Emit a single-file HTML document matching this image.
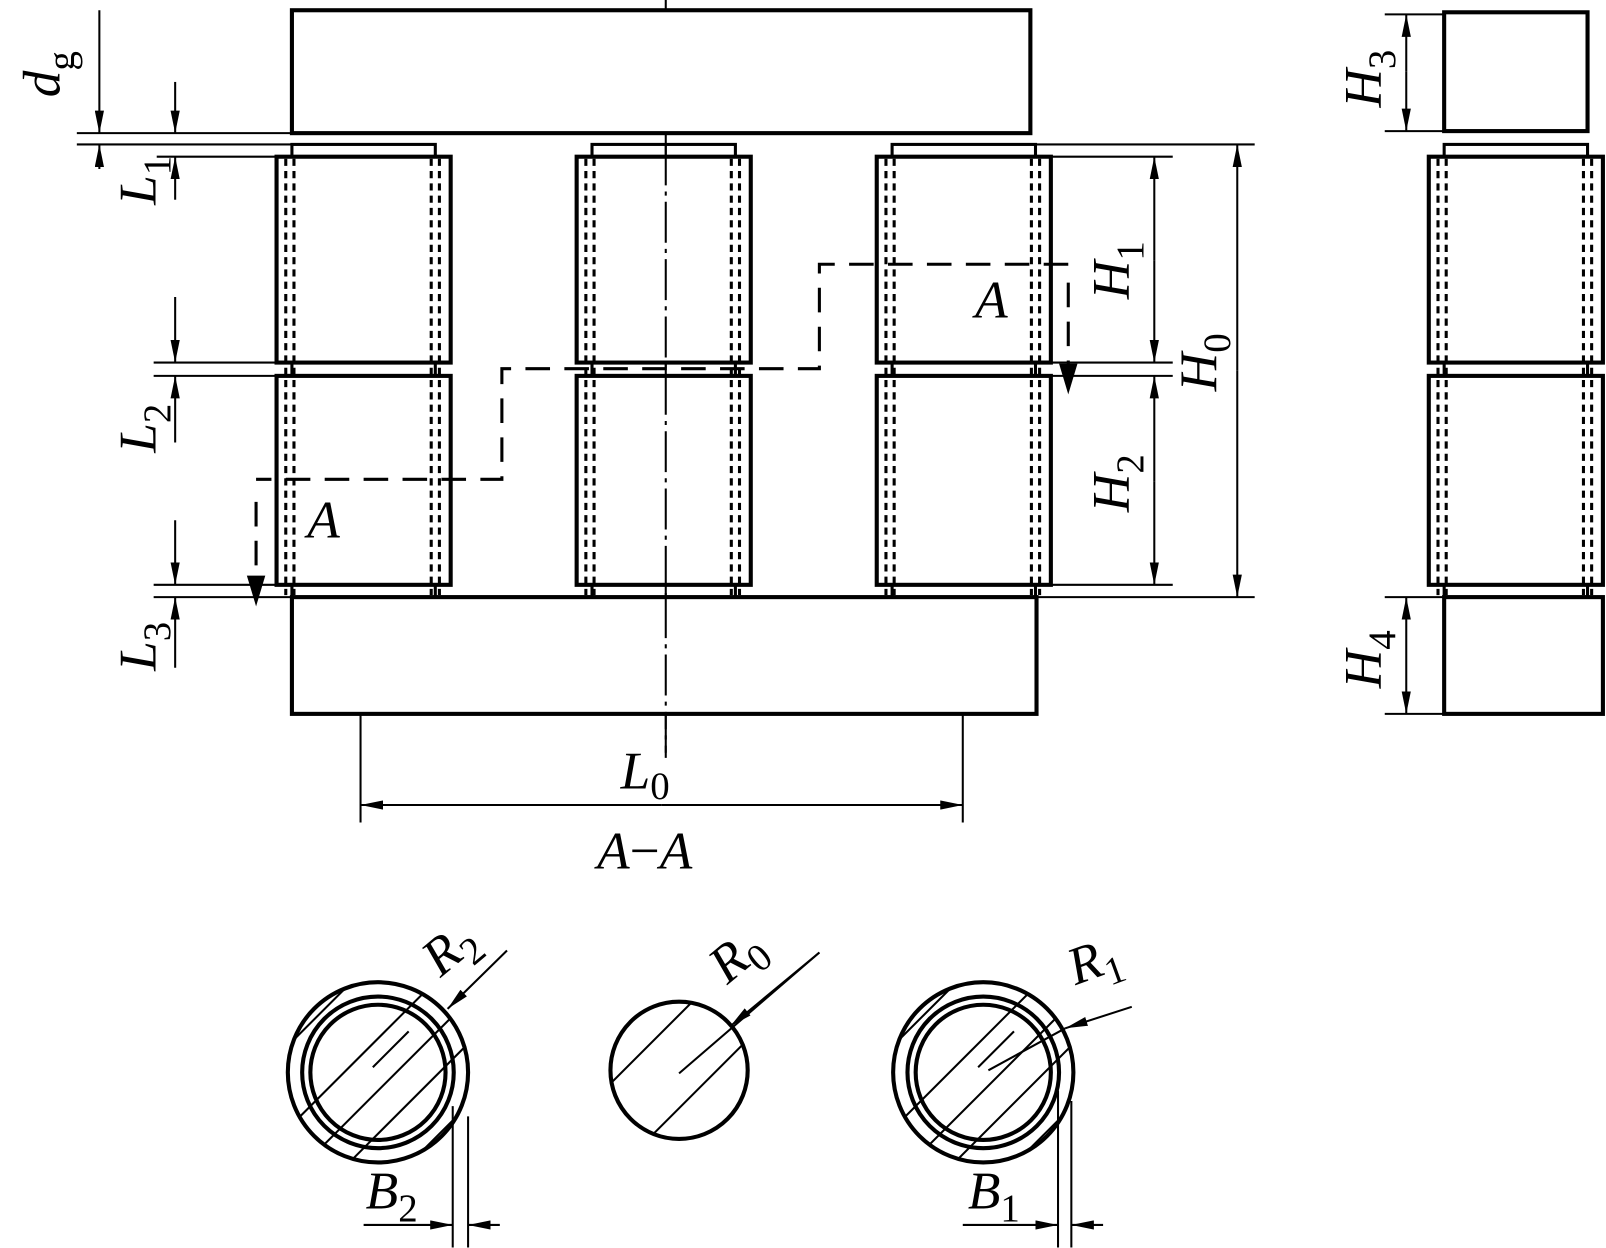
<!DOCTYPE html>
<html><head><meta charset="utf-8"><style>
html,body{margin:0;padding:0;background:#fff;}
svg{display:block;}
text{font-family:"Liberation Serif","Times New Roman",serif;font-style:italic;fill:#000;}
.sub{font-style:normal;}
</style></head><body>
<svg width="1606" height="1248" viewBox="0 0 1568 1218.5" xmlns="http://www.w3.org/2000/svg">
<defs>
<marker id="ar" viewBox="0 0 10 10" preserveAspectRatio="none" refX="10" refY="5" markerWidth="22" markerHeight="9" markerUnits="userSpaceOnUse" orient="auto"><path d="M0,0 L10,5 L0,10 z" fill="#000"/></marker>
<clipPath id="c88"><circle cx="0" cy="0" r="88"/></clipPath>
<clipPath id="c67"><circle cx="663" cy="1045" r="67"/></clipPath>
<g id="coilcol">
  <rect x="15" y="0" width="140" height="442" fill="none" stroke="#000" stroke-width="3"/>
  <rect x="0" y="12" width="170" height="201" fill="#fff" stroke="#000" stroke-width="4"/>
  <rect x="0" y="226" width="170" height="204" fill="#fff" stroke="#000" stroke-width="4"/>
  <g stroke="#000" stroke-width="3" stroke-dasharray="7,5">
    <line x1="9" y1="14" x2="9" y2="440"/><line x1="17" y1="14" x2="17" y2="440"/>
    <line x1="151" y1="14" x2="151" y2="440"/><line x1="159" y1="14" x2="159" y2="440"/>
  </g>
</g>
<g id="ringhatch">
  <g stroke="#000" stroke-width="2" clip-path="url(#c88)">
    <line x1="-104" y1="-10" x2="-10" y2="-104"/>
    <line x1="-85" y1="52" x2="50" y2="-83"/>
    <line x1="-60" y1="78" x2="70" y2="-52"/>
    <line x1="-5" y1="-5" x2="30" y2="-40"/>
    <line x1="-30" y1="90" x2="95" y2="-35"/>
    <line x1="20" y1="100" x2="100" y2="20"/>
  </g>
  <circle cx="0" cy="0" r="88" fill="none" stroke="#000" stroke-width="4"/>
  <circle cx="0" cy="0" r="74" fill="none" stroke="#000" stroke-width="4"/>
  <circle cx="0" cy="0" r="66" fill="none" stroke="#000" stroke-width="4"/>
</g>
</defs>
<g stroke="#000" fill="none">
<line x1="650" y1="0" x2="650" y2="740" stroke-width="2" stroke-dasharray="40,6,4,6"/>
<rect x="285" y="10" width="721" height="120" stroke-width="4" fill="#fff"/>
<use href="#coilcol" x="270" y="141"/>
<use href="#coilcol" x="563" y="141"/>
<use href="#coilcol" x="856" y="141"/>
<line x1="650" y1="141" x2="650" y2="583" stroke-width="2" stroke-dasharray="40,6,4,6"/>
<rect x="285" y="583" width="727" height="114" stroke-width="4" fill="#fff"/>
<line x1="650" y1="583" x2="650" y2="740" stroke-width="2" stroke-dasharray="40,6,4,6"/>
<g stroke-width="2">
<line x1="75" y1="130" x2="285" y2="130"/><line x1="75" y1="141" x2="285" y2="141"/>
<line x1="153" y1="153" x2="270" y2="153"/>
<line x1="150" y1="354" x2="270" y2="354"/><line x1="150" y1="367" x2="270" y2="367"/>
<line x1="150" y1="571" x2="270" y2="571"/><line x1="150" y1="583" x2="285" y2="583"/>
<line x1="97" y1="10" x2="97" y2="130" marker-end="url(#ar)"/>
<line x1="97" y1="165" x2="97" y2="141" marker-end="url(#ar)"/>
<line x1="171" y1="80" x2="171" y2="130" marker-end="url(#ar)"/>
<line x1="171" y1="195" x2="171" y2="153" marker-end="url(#ar)"/>
<line x1="171" y1="290" x2="171" y2="354" marker-end="url(#ar)"/>
<line x1="171" y1="432" x2="171" y2="367" marker-end="url(#ar)"/>
<line x1="171" y1="508" x2="171" y2="571" marker-end="url(#ar)"/>
<line x1="171" y1="652" x2="171" y2="583" marker-end="url(#ar)"/>
<line x1="1026" y1="153" x2="1145" y2="153"/><line x1="1026" y1="354" x2="1145" y2="354"/>
<line x1="1026" y1="367" x2="1145" y2="367"/><line x1="1026" y1="571" x2="1145" y2="571"/>
<line x1="1012" y1="141" x2="1225" y2="141"/><line x1="1012" y1="583" x2="1225" y2="583"/>
<line x1="1127" y1="254" x2="1127" y2="153" marker-end="url(#ar)"/><line x1="1127" y1="254" x2="1127" y2="354" marker-end="url(#ar)"/>
<line x1="1127" y1="470" x2="1127" y2="367" marker-end="url(#ar)"/><line x1="1127" y1="470" x2="1127" y2="571" marker-end="url(#ar)"/>
<line x1="1208" y1="362" x2="1208" y2="141" marker-end="url(#ar)"/><line x1="1208" y1="362" x2="1208" y2="583" marker-end="url(#ar)"/>
<line x1="352" y1="697" x2="352" y2="803"/><line x1="940" y1="697" x2="940" y2="803"/>
<line x1="646" y1="786" x2="352" y2="786" marker-end="url(#ar)"/><line x1="646" y1="786" x2="940" y2="786" marker-end="url(#ar)"/>
</g>
<g stroke-width="3" stroke-dasharray="24,14">
<polyline points="1043,258 800,258 800,360 490,360 490,468 250,468"/>
<line x1="250" y1="490" x2="250" y2="570"/>
<line x1="1043" y1="276" x2="1043" y2="360"/>
</g>
<path d="M241,562 L259,562 L250,592 z" fill="#000" stroke="none"/>
<path d="M1034,355 L1052,355 L1043,385 z" fill="#000" stroke="none"/>
<rect x="1410" y="12" width="140" height="116" stroke-width="4"/>
<use href="#coilcol" x="1395" y="141"/>
<rect x="1410" y="583" width="155" height="114" stroke-width="4" fill="#fff"/>
<g stroke-width="2">
<line x1="1352" y1="14" x2="1410" y2="14"/><line x1="1352" y1="128" x2="1410" y2="128"/>
<line x1="1352" y1="583" x2="1410" y2="583"/><line x1="1352" y1="697" x2="1410" y2="697"/>
<line x1="1373" y1="70" x2="1373" y2="14" marker-end="url(#ar)"/><line x1="1373" y1="70" x2="1373" y2="128" marker-end="url(#ar)"/>
<line x1="1373" y1="640" x2="1373" y2="583" marker-end="url(#ar)"/><line x1="1373" y1="640" x2="1373" y2="697" marker-end="url(#ar)"/>
</g>
<use href="#ringhatch" x="369" y="1047"/>
<use href="#ringhatch" x="960" y="1047"/>
<g stroke-width="2" clip-path="url(#c67)">
<line x1="590" y1="1064" x2="700" y2="954"/>
<line x1="633" y1="1112" x2="740" y2="1005"/>
</g>
<circle cx="663" cy="1045" r="67" stroke-width="4"/>
<g stroke-width="2">
<line x1="663" y1="1048" x2="800" y2="930"/>
<line x1="495" y1="928" x2="437" y2="985" marker-end="url(#ar)"/>
<line x1="800" y1="930" x2="713" y2="1002" marker-end="url(#ar)"/>
<line x1="1105" y1="983" x2="1040" y2="1004" marker-end="url(#ar)"/>
<line x1="1040" y1="1004" x2="965" y2="1045"/>
<line x1="442" y1="1080" x2="442" y2="1218"/><line x1="457" y1="1090" x2="457" y2="1218"/>
<line x1="355" y1="1196" x2="442" y2="1196" marker-end="url(#ar)"/><line x1="488" y1="1196" x2="457" y2="1196" marker-end="url(#ar)"/>
<line x1="1033" y1="1065" x2="1033" y2="1218"/><line x1="1046" y1="1075" x2="1046" y2="1218"/>
<line x1="940" y1="1196" x2="1033" y2="1196" marker-end="url(#ar)"/><line x1="1077" y1="1196" x2="1046" y2="1196" marker-end="url(#ar)"/>
</g>
</g>
<g font-size="52">
<text transform="translate(58,95) rotate(-90)">d<tspan class="sub" font-size="38" dy="14">g</tspan></text>
<text transform="translate(152,200) rotate(-90)">L<tspan class="sub" font-size="38" dy="14">1</tspan></text>
<text transform="translate(152,442) rotate(-90)">L<tspan class="sub" font-size="38" dy="14">2</tspan></text>
<text transform="translate(152,655) rotate(-90)">L<tspan class="sub" font-size="38" dy="14">3</tspan></text>
<text transform="translate(1102,292) rotate(-90)">H<tspan class="sub" font-size="38" dy="14">1</tspan></text>
<text transform="translate(1102,500) rotate(-90)">H<tspan class="sub" font-size="38" dy="14">2</tspan></text>
<text transform="translate(1187,382) rotate(-90)">H<tspan class="sub" font-size="38" dy="14">0</tspan></text>
<text transform="translate(1348,105) rotate(-90)">H<tspan class="sub" font-size="38" dy="14">3</tspan></text>
<text transform="translate(1348,672) rotate(-90)">H<tspan class="sub" font-size="38" dy="14">4</tspan></text>
<text x="952" y="310">A</text>
<text x="300" y="525">A</text>
<text x="606" y="770">L<tspan class="sub" font-size="38" dy="10">0</tspan></text>
<text x="583" y="848">A<tspan class="sub">−</tspan>A</text>
<text x="357" y="1180">B<tspan class="sub" font-size="38" dy="12">2</tspan></text>
<text x="945" y="1180">B<tspan class="sub" font-size="38" dy="12">1</tspan></text>
<text transform="translate(430,955) rotate(-40)">R<tspan class="sub" font-size="38" dy="12">2</tspan></text>
<text transform="translate(710,962) rotate(-40)">R<tspan class="sub" font-size="38" dy="12">0</tspan></text>
<text transform="translate(1050,962) rotate(-20)">R<tspan class="sub" font-size="38" dy="12">1</tspan></text>
</g>
</svg>
</body></html>
